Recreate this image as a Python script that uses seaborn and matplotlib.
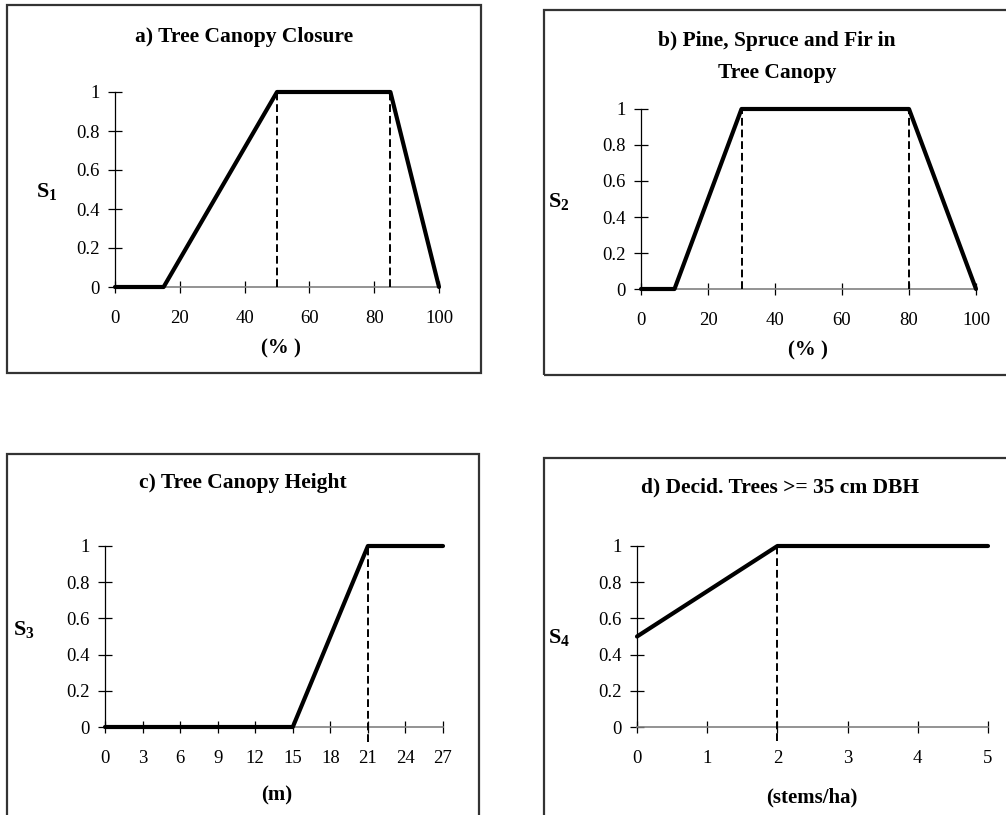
import matplotlib
matplotlib.use("Agg")
import matplotlib.pyplot as plt
import seaborn as sns
from matplotlib.patches import Rectangle

# suitability curves, one per panel
closure_x = [0, 15, 50, 85, 100]
closure_s = [0, 0, 1, 1, 0]
closure_marks = [50, 85]

conifer_x = [0, 10, 30, 80, 100]
conifer_s = [0, 0, 1, 1, 0]
conifer_marks = [30, 80]

height_x = [0, 15, 21, 27]
height_s = [0, 0, 1, 1]
height_marks = [21]

decid_x = [0, 2, 5]
decid_s = [0.5, 1, 1]
decid_marks = [2]

pct_ticks = [0, 20, 40, 60, 80, 100]
height_ticks = [0, 3, 6, 9, 12, 15, 18, 21, 24, 27]
decid_ticks = [0, 1, 2, 3, 4, 5]
s_ticks = [0, 0.2, 0.4, 0.6, 0.8, 1]
s_labels = ["0", "0.2", "0.4", "0.6", "0.8", "1"]

titles = ["a) Tree Canopy Closure", "b) Pine, Spruce and Fir in\nTree Canopy",
          "c) Tree Canopy Height", "d) Decid. Trees >= 35 cm DBH"]
xlabels = ["(% )", "(% )", "(m)", "(stems/ha)"]
ylabels = [r"$\mathbf{S_1}$", r"$\mathbf{S_2}$", r"$\mathbf{S_3}$", r"$\mathbf{S_4}$"]

sns.set_style("white")
plt.rcParams["font.family"] = ["Liberation Serif", "DejaVu Serif"]
plt.rcParams["mathtext.fontset"] = "custom"
plt.rcParams["mathtext.rm"] = "Liberation Serif"
plt.rcParams["mathtext.bf"] = "Liberation Serif:bold"
plt.rcParams["text.color"] = "black"

W, H = 1006, 815
fig = plt.figure(figsize=(W / 100, H / 100), dpi=100)


def fx(x):
    return x / W


def fy(y):
    return 1 - y / H


def panel(rect_px, xs, ys, marks, mark_bottom, xticks, xmax):
    x0, x1, y_top, y_bot = rect_px
    ax = fig.add_axes([fx(x0), fy(y_bot), (x1 - x0) / W, (y_bot - y_top) / H])
    sns.lineplot(x=xs, y=ys, ax=ax, color="black", linewidth=3.0,
                 clip_on=False, zorder=4)
    ax.vlines(marks, mark_bottom, 1, colors="black", linewidth=1.4,
              linestyles=(0, (4, 2)), clip_on=False, zorder=3)
    ax.set_xlim(0, xmax)
    ax.set_ylim(0, 1)
    ax.set_xticks(xticks)
    ax.set_yticks(s_ticks)
    ax.set_yticklabels(s_labels)
    for s in ["top", "right"]:
        ax.spines[s].set_visible(False)
    ax.spines["left"].set_color("black")
    ax.spines["bottom"].set_color("#808080")
    ax.spines["left"].set_linewidth(0.9)
    ax.spines["bottom"].set_linewidth(1.2)
    ax.tick_params(axis="y", left=True, direction="inout", length=10, width=0.9,
                   color="black", labelcolor="black", labelsize=13.5, pad=6)
    ax.tick_params(axis="x", bottom=True, direction="inout", length=9, width=0.9,
                   color="black", labelcolor="black", labelsize=13.5, pad=12)
    ax.patch.set_alpha(0)
    return ax


panel((115, 439, 92, 287), closure_x, closure_s, closure_marks, 0, pct_ticks, 100)
panel((641, 976, 109, 289), conifer_x, conifer_s, conifer_marks, 0, pct_ticks, 100)
panel((105, 443, 546, 727), height_x, height_s, height_marks, -0.085, height_ticks, 27)
panel((637, 988, 546, 727), decid_x, decid_s, decid_marks, -0.075, decid_ticks, 5)

# boxes around each panel
boxes = [(7, 5, 481, 373), (544, 10, 1012, 375), (7, 454, 479, 830), (544, 458, 1012, 830)]
for bx0, by0, bx1, by1 in boxes:
    fig.add_artist(Rectangle((fx(bx0), fy(by1)), (bx1 - bx0) / W, (by1 - by0) / H,
                             transform=fig.transFigure, fill=False,
                             edgecolor="#333333", linewidth=1.6))

title_pos = [(244, 37), (777, 57), (243, 483), (780, 487)]
xlabel_pos = [(281, 348), (808, 350), (277, 795), (812, 797)]
ylabel_pos = [(47, 192), (559, 202), (24, 630), (559, 637)]

for t, (x, y) in zip(titles, title_pos):
    fig.text(fx(x), fy(y), t, ha="center", va="center", fontsize=15.5,
             fontweight="bold", linespacing=1.75)
for t, (x, y) in zip(xlabels, xlabel_pos):
    fig.text(fx(x), fy(y), t, ha="center", va="center", fontsize=15,
             fontweight="bold")
for t, (x, y) in zip(ylabels, ylabel_pos):
    fig.text(fx(x), fy(y), t, ha="center", va="center", fontsize=16)

fig.savefig("out.png", dpi=100)
